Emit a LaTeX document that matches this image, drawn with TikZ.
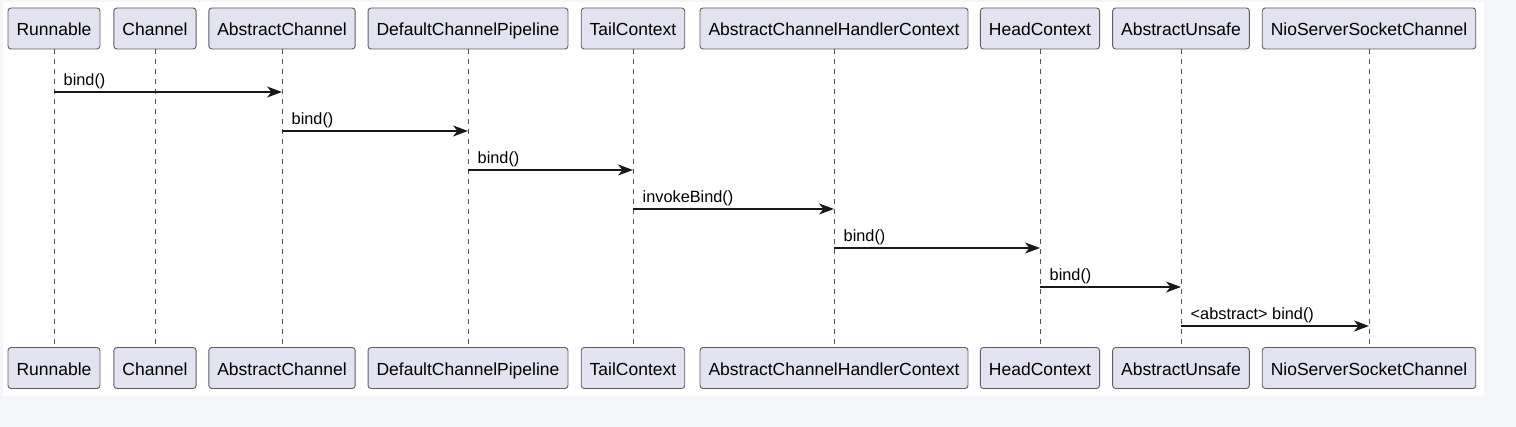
\documentclass[tikz,border=0pt]{standalone}
\usepackage{xcolor}
\usepackage{fontspec}
\setmainfont{Liberation Sans}
\usepackage{tikz}
\usetikzlibrary{arrows.meta, positioning}

\definecolor{boxfill}{HTML}{E2E2F0}
\definecolor{boxline}{HTML}{5E5E5E}
\definecolor{ink}{HTML}{181818}
\definecolor{pagebg}{HTML}{F5F6F8}

\begin{document}
\begin{tikzpicture}[x=1pt, y=-1pt,
    part/.style={draw=boxline, fill=boxfill, line width=0.9pt, rounded corners=3pt,
        minimum height=41pt, inner xsep=8.5pt, text height=16pt, text depth=1pt,
        font=\fontsize{17.5}{20}\selectfont},
    life/.style={draw=ink!75, line width=0.8pt, dash pattern=on 5pt off 5pt},
    msg/.style={draw=ink, line width=1.2pt, -{Stealth[length=15pt, width=11pt, inset=4.5pt]}},
    lbl/.style={font=\fontsize{16.3}{19}\selectfont, anchor=base west, inner sep=0pt}]
            % Background
            \fill[pagebg] (0,0) rectangle (1516,427);
            \fill[white] (3,2) rectangle (1484,396);

            % Participants (top)
            \node[part] (runT) at (54,28.5) {Runnable};
            \node[part] (chT) at (155,28.5) {Channel};
            \node[part] (acT) at (282,28.5) {AbstractChannel};
            \node[part] (dcpT) at (468,28.5) {DefaultChannelPipeline};
            \node[part] (tailT) at (633,28.5) {TailContext};
            \node[part] (achcT) at (834,28.5) {AbstractChannelHandlerContext};
            \node[part] (headT) at (1040,28.5) {HeadContext};
            \node[part] (auT) at (1181,28.5) {AbstractUnsafe};
            \node[part] (nioT) at (1369,28.5) {NioServerSocketChannel};

            % Participants (bottom)
            \node[part] (runB) at (54,368) {Runnable};
            \node[part] (chB) at (155,368) {Channel};
            \node[part] (acB) at (282,368) {AbstractChannel};
            \node[part] (dcpB) at (468,368) {DefaultChannelPipeline};
            \node[part] (tailB) at (633,368) {TailContext};
            \node[part] (achcB) at (834,368) {AbstractChannelHandlerContext};
            \node[part] (headB) at (1040,368) {HeadContext};
            \node[part] (auB) at (1181,368) {AbstractUnsafe};
            \node[part] (nioB) at (1369,368) {NioServerSocketChannel};

            % Lifelines
            \draw[life] (runT) -- (runB);
            \draw[life] (chT) -- (chB);
            \draw[life] (acT) -- (acB);
            \draw[life] (dcpT) -- (dcpB);
            \draw[life] (tailT) -- (tailB);
            \draw[life] (achcT) -- (achcB);
            \draw[life] (headT) -- (headB);
            \draw[life] (auT) -- (auB);
            \draw[life] (nioT) -- (nioB);

            % Messages
            \draw[msg] (runT |- 0,92) -- (acT |- 0,92);
            \node[lbl] at ([xshift=9.5pt] runT |- 0,85.5) {bind()};
            \draw[msg] (acT |- 0,131) -- (dcpT |- 0,131);
            \node[lbl] at ([xshift=9.5pt] acT |- 0,124.5) {bind()};
            \draw[msg] (dcpT |- 0,170) -- (tailT |- 0,170);
            \node[lbl] at ([xshift=9.5pt] dcpT |- 0,163.5) {bind()};
            \draw[msg] (tailT |- 0,209) -- (achcT |- 0,209);
            \node[lbl] at ([xshift=9.5pt] tailT |- 0,202.5) {invokeBind()};
            \draw[msg] (achcT |- 0,248) -- (headT |- 0,248);
            \node[lbl] at ([xshift=9.5pt] achcT |- 0,241.5) {bind()};
            \draw[msg] (headT |- 0,287) -- (auT |- 0,287);
            \node[lbl] at ([xshift=9.5pt] headT |- 0,280.5) {bind()};
            \draw[msg] (auT |- 0,326) -- (nioT |- 0,326);
            \node[lbl] at ([xshift=9.5pt] auT |- 0,319.5) {<abstract> bind()};
        \end{tikzpicture}
\end{document}
